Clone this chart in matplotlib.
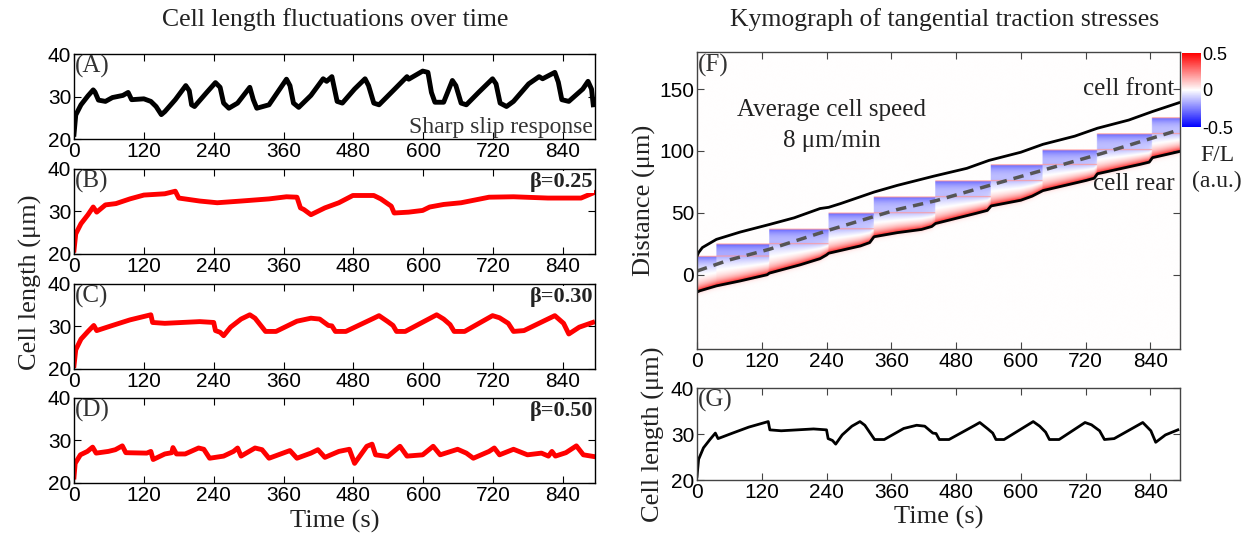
import numpy as np
import matplotlib.pyplot as plt

serif = 'Liberation Serif'
sans = 'Liberation Sans'
plt.rcParams['font.family'] = sans

W, H = 1252, 539

# ---- cell length traces (time s, length um) ----
t_A = [0, 3, 12, 24, 33, 36, 42, 54, 66, 84, 93, 99, 120, 132, 141, 150, 156, 174, 192, 198, 202, 207,
       228, 243, 251, 257, 266, 281, 302, 308, 314, 335, 365, 371, 377, 386, 407, 428, 434, 443, 452,
       461, 482, 500, 506, 515, 524, 551, 572, 575, 599, 608, 614, 620, 635, 650, 656, 665, 674, 695,
       719, 725, 732, 743, 755, 781, 799, 805, 826, 832, 838, 850, 874, 883, 889, 892]
len_A = [21.2, 25.7, 28.1, 30.2, 31.6, 31.1, 29.2, 28.9, 29.8, 30.3, 31.0, 29.3, 29.5, 28.9, 27.7, 25.8,
         26.5, 29.3, 32.6, 31.4, 28.1, 27.7, 31.0, 33.3, 32.2, 28.5, 27.3, 28.5, 32.2, 29.3, 27.3, 28.1,
         34.1, 32.6, 28.5, 27.5, 30.3, 34.2, 33.6, 34.7, 28.9, 28.5, 31.8, 34.2, 32.6, 28.5, 28.1, 31.8,
         34.7, 34.1, 36.0, 35.7, 31.0, 28.7, 28.7, 33.8, 32.6, 28.5, 28.1, 31.0, 34.2, 33.0, 28.5, 27.7,
         28.9, 33.0, 34.7, 34.2, 35.7, 33.4, 29.3, 28.9, 31.8, 33.6, 31.8, 28.1]

t_B = [0, 3, 12, 24, 33, 39, 54, 72, 96, 120, 156, 174, 180, 216, 246, 287, 335, 365, 383, 389, 395,
       407, 431, 455, 479, 515, 527, 545, 550, 575, 599, 611, 635, 665, 713, 755, 814, 871, 892]
len_B = [20.9, 24.7, 27.1, 29.2, 31.0, 29.8, 31.5, 31.8, 32.9, 33.8, 34.1, 34.7, 33.1, 32.4, 32.0,
         32.4, 32.9, 33.4, 33.3, 30.8, 30.4, 29.2, 30.8, 32.0, 33.7, 33.7, 32.9, 31.2, 29.6, 29.8, 30.2,
         31.0, 31.6, 32.0, 33.3, 33.4, 33.1, 33.1, 34.3]

t_C = [0, 3, 12, 24, 34, 39, 66, 96, 132, 135, 156, 186, 216, 240, 243, 251, 257, 269, 287, 302, 311,
       329, 347, 383, 407, 422, 437, 443, 449, 467, 515, 524, 539, 548, 554, 569, 623, 635, 646, 653,
       671, 719, 731, 746, 755, 773, 826, 841, 850, 868, 891]
len_C = [20.8, 24.5, 27.0, 28.8, 30.2, 29.0, 30.2, 31.5, 32.7, 30.9, 30.7, 30.9, 31.1, 30.9, 29.0,
         28.6, 27.8, 29.8, 31.7, 32.7, 31.9, 28.8, 28.8, 31.2, 31.9, 31.7, 30.2, 30.1, 28.8, 28.8, 31.9,
         32.5, 31.1, 30.2, 28.8, 28.8, 32.7, 31.7, 30.4, 28.8, 28.8, 32.5, 32.0, 30.7, 28.8, 29.0, 32.5,
         30.7, 28.2, 29.8, 30.9]

t_D = [0, 2, 11, 23, 32, 38, 59, 71, 83, 89, 125, 132, 136, 156, 168, 170, 176, 191, 214, 223, 233,
       257, 274, 281, 287, 311, 323, 335, 359, 371, 383, 407, 419, 431, 455, 473, 482, 503, 512, 518,
       539, 560, 572, 599, 617, 629, 659, 674, 686, 713, 722, 731, 755, 779, 803, 815, 821, 827, 845,
       863, 875, 893]
len_D = [21.4, 24.6, 26.6, 27.4, 28.4, 27.0, 27.4, 27.8, 28.7, 27.1, 27.0, 27.4, 25.5, 26.8, 27.1,
         28.3, 26.8, 26.8, 28.2, 27.9, 25.8, 26.3, 27.4, 28.2, 26.3, 28.2, 27.8, 25.8, 27.0, 27.6, 25.8,
         27.0, 27.8, 26.0, 27.4, 27.9, 24.6, 28.6, 29.1, 26.6, 26.2, 28.6, 26.3, 26.6, 28.6, 26.6, 27.9,
         27.0, 25.8, 27.4, 28.2, 26.6, 27.9, 26.6, 27.0, 26.3, 27.4, 26.3, 27.1, 28.7, 26.6, 26.2]

panel_tags = ['(A)', '(B)', '(C)', '(D)']
beta_labels = [None, 'β=0.25', 'β=0.30', 'β=0.50']
xticks = [0, 120, 240, 360, 480, 600, 720, 840]

# ---- kymograph (time s, distance um) ----
front_t = [0, 3, 10, 36, 80, 134, 180, 228, 244, 266, 328, 371, 439, 500, 541, 600, 641, 700, 742, 800, 844, 893]
front_y = [15, 18, 22, 28.6, 34.5, 40.6, 46, 53.5, 54.5, 57.5, 66.8, 72.2, 79.7, 86, 92.4, 99, 105.4, 112,
           118.4, 125, 131.9, 139]
rear_t = [0, 5, 36, 80, 120, 130, 134, 191, 228, 240, 244, 303, 320, 328, 371, 416, 435, 442, 516, 538,
          545, 600, 621, 641, 721, 736, 742, 821, 838, 844, 893]
rear_y = [-14, -13, -9, -5, -1, 0, 1.3, 8, 13, 16, 17.4, 23.3, 26, 30.7, 34, 36.6, 39, 41.4, 49.5, 52,
          55.6, 60.2, 63.5, 68, 76.2, 78, 81.6, 89.2, 91, 94.6, 99.5]
mid_t = [0, 60, 134, 244, 371, 444, 600, 750, 893]
mid_y = [3, 12, 20.6, 36, 52.7, 60, 79.4, 98, 117]
slip_t = [0, 36, 134, 244, 328, 442, 545, 641, 742, 844]
band_top = [15, 25, 37, 50, 63, 76, 89, 101, 114, 127]

fig = plt.figure(figsize=(W / 100, H / 100), dpi=100)


def style(ax, spine_col='black'):
    ax.tick_params(direction='in', top=True, right=True, labelsize=15, pad=2, length=5,
                   color=spine_col)
    for s in ax.spines.values():
        s.set_color(spine_col)
        s.set_linewidth(1.0)


# left column
bottoms = [0.7414, 0.5288, 0.3154, 0.1039]
series = [(t_A, len_A, 'black'), (t_B, len_B, 'red'), (t_C, len_C, 'red'), (t_D, len_D, 'red')]
for i, (tt, ll, col) in enumerate(series):
    ax = fig.add_axes([74 / W, bottoms[i], 521 / W, 0.1584])
    ax.plot(tt, ll, color=col, lw=3.5, solid_joinstyle='round')
    ax.set_xlim(0, 895)
    ax.set_ylim(20, 40)
    ax.set_xticks(xticks)
    ax.set_yticks([20, 30, 40])
    style(ax)
    ax.text(0.002, 0.99, panel_tags[i], transform=ax.transAxes, ha='left', va='top',
            family=serif, fontsize=18, color='#333333')
    if beta_labels[i]:
        ax.text(0.996, 0.96, beta_labels[i], transform=ax.transAxes, ha='right', va='top',
                family=serif, fontsize=16, fontweight='bold', color='#222222', zorder=5,
                bbox=dict(fc='white', ec='none', pad=0.5))
    if i == 0:
        ax.text(0.996, 0.02, 'Sharp slip response', transform=ax.transAxes, ha='right',
                va='bottom', family=serif, fontsize=17, color='#333333')

fig.text(335 / W, 1 - 20 / H, 'Cell length fluctuations over time', ha='center', va='center',
         family=serif, fontsize=18.5, color='#222222')
fig.text(30 / W, 1 - 282 / H, 'Cell length (μm)', rotation=90, ha='center', va='center',
         family=serif, fontsize=19, color='#222222')
fig.text(335 / W, 1 - 521 / H, 'Time (s)', ha='center', va='center',
         family=serif, fontsize=19, color='#222222')

# kymograph field built from the band positions
tg = np.arange(0, 896, 1.0)
yg = np.arange(-60, 180.01, 0.25)
rear_g = np.interp(tg, rear_t, rear_y)
k_idx = np.searchsorted(slip_t, tg, side='right') - 1
top_g = np.array(band_top)[k_idx]
prev_g = np.array([band_top[k - 1] if k > 0 else -100 for k in k_idx])
Y = yg[:, None]
d = Y - rear_g[None, :]
inside = (d >= 0) & (Y <= top_g[None, :])
red = np.where(d >= 0, 0.5 * np.exp(-d / 4.5), 0.15 * np.exp(d / 1.5))
blue = 0.3 * np.exp(-(top_g[None, :] - Y) / 7.0) + 0.1 * np.exp(-np.abs(prev_g[None, :] - Y) / 6.0)
field = np.where(inside, red - blue, np.where(d < 0, red, 0.0))
edge = inside & ((np.abs(Y - top_g[None, :]) < 0.6) | (np.abs(Y - prev_g[None, :]) < 0.4))
field = np.where(edge, 0.2, field)
field = np.clip(field, -0.5, 0.5)

axF = fig.add_axes([697 / W, 1 - 349 / H, 483 / W, 297 / H])
im = axF.imshow(field, extent=[0, 895, -60, 180.25], origin='lower', aspect='auto',
                cmap='bwr', vmin=-0.5, vmax=0.5, interpolation='bilinear')
axF.plot(front_t, front_y, color='black', lw=2)
axF.plot(rear_t, rear_y, color='black', lw=2)
axF.plot(mid_t, mid_y, color='#555555', lw=2.5, ls=(0, (3, 2)))
axF.set_xlim(0, 895)
axF.set_ylim(-60, 180)
axF.set_xticks(xticks)
axF.set_yticks([0, 50, 100, 150])
style(axF, '#444444')
axF.set_ylabel('Distance (μm)', family=serif, fontsize=19, color='#222222', labelpad=2)
axF.text(0.002, 0.995, '(F)', transform=axF.transAxes, ha='left', va='top',
         family=serif, fontsize=18, color='#333333')
axF.text(250, 133, 'Average cell speed', ha='center', va='center', family=serif, fontsize=18,
         color='#222222')
axF.text(250, 108, '8 μm/min', ha='center', va='center', family=serif, fontsize=18, color='#222222')
axF.text(885, 150, 'cell front', ha='right', va='center', family=serif, fontsize=18, color='#222222')
axF.text(885, 73, 'cell rear', ha='right', va='center', family=serif, fontsize=18, color='#222222')

cax = fig.add_axes([1182 / W, 1 - 127 / H, 19 / W, 74 / H])
cb = fig.colorbar(im, cax=cax, ticks=[-0.5, 0, 0.5])
cb.ax.set_yticklabels(['-0.5', '0', '0.5'])
cb.ax.tick_params(length=0, labelsize=13, pad=1)
cb.outline.set_visible(False)
fig.text(1217 / W, 1 - 156 / H, 'F/L', ha='center', va='center', family=serif, fontsize=17,
         color='#222222')
fig.text(1217 / W, 1 - 181 / H, '(a.u.)', ha='center', va='center', family=serif, fontsize=17,
         color='#222222')

axG = fig.add_axes([697 / W, 1 - 480 / H, 483 / W, 92 / H])
axG.plot(t_C, len_C, color='black', lw=2)
axG.set_xlim(0, 895)
axG.set_ylim(20, 40)
axG.set_xticks(xticks)
axG.set_yticks([20, 30, 40])
style(axG, '#444444')
axG.text(0.002, 0.99, '(G)', transform=axG.transAxes, ha='left', va='top',
         family=serif, fontsize=18, color='#333333')
axG.set_ylabel('Cell length (μm)', family=serif, fontsize=19, color='#222222', labelpad=4)
axG.set_xlabel('Time (s)', family=serif, fontsize=19, color='#222222', labelpad=3)

fig.text(945 / W, 1 - 20 / H, 'Kymograph of tangential traction stresses', ha='center',
         va='center', family=serif, fontsize=18.5, color='#222222')

fig.savefig('out.png', dpi=100)
